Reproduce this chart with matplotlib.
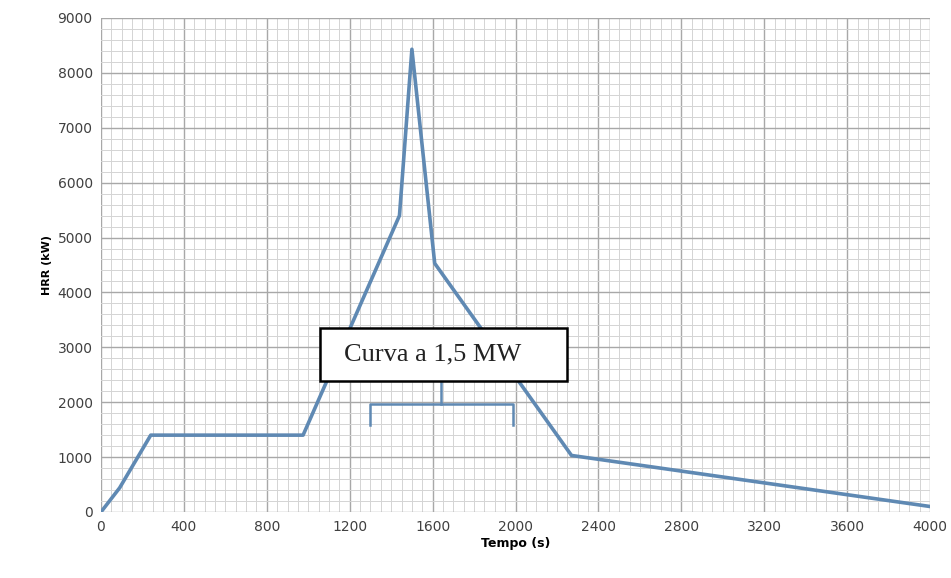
import matplotlib.pyplot as plt
from matplotlib.patches import Rectangle
from matplotlib.ticker import MultipleLocator

# HRR curve
tempo = [0, 90, 240, 975, 1440, 1500, 1610, 2270, 4000]
hrr = [0, 440, 1400, 1400, 5400, 8430, 4530, 1030, 100]

# bracket under the label box
brace_x = [1300, 1300, 1990, 1990]
brace_y = [1580, 1970, 1970, 1580]
brace_mid = 1640

# label box (data units)
box_x0, box_x1 = 1055, 2250
box_y0, box_y1 = 2390, 3350

fig = plt.figure(figsize=(9.51, 5.78), dpi=100)
ax = fig.add_axes([0.1062, 0.1142, 0.8718, 0.8547])

ax.plot(tempo, hrr, color="#5f89b3", linewidth=2.6, zorder=3)

# label and its bracket
ax.plot(brace_x, brace_y, color="#5f89b3", linewidth=1.8, zorder=3)
ax.plot([brace_mid, brace_mid], [brace_y[1], box_y0], color="#5f89b3", linewidth=1.8, zorder=3)
ax.add_patch(Rectangle((box_x0, box_y0), box_x1 - box_x0, box_y1 - box_y0,
                       facecolor="white", edgecolor="black", linewidth=1.8, zorder=4))
ax.text(1600, (box_y0 + box_y1) / 2, "Curva a 1,5 MW", family="Liberation Serif", fontsize=19,
        ha="center", va="center", color="#222222", zorder=5)

ax.set_xlim(0, 4000)
ax.set_ylim(0, 9000)
ax.xaxis.set_major_locator(MultipleLocator(400))
ax.xaxis.set_minor_locator(MultipleLocator(50))
ax.yaxis.set_major_locator(MultipleLocator(1000))
ax.yaxis.set_minor_locator(MultipleLocator(200))

ax.grid(which="major", color="#a8a8a8", linewidth=1.0)
ax.grid(which="minor", color="#d4d4d4", linewidth=0.7)
ax.set_axisbelow(True)
for s in ax.spines.values():
    s.set_visible(False)
ax.tick_params(which="both", length=0, labelsize=10, colors="#404040", pad=6)

ax.set_xlabel("Tempo (s)", fontsize=9, fontweight="bold", labelpad=2)
ax.set_ylabel("HRR (kW)", fontsize=8, fontweight="bold", labelpad=4)

plt.savefig("out.png", dpi=100)
